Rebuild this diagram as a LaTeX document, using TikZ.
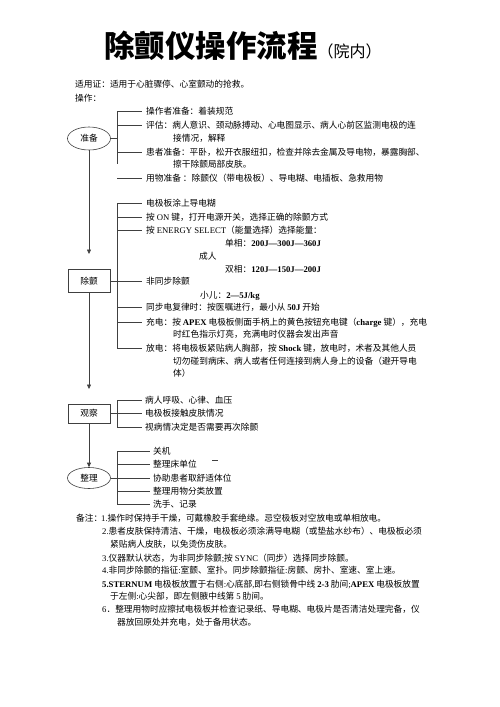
\documentclass[tikz,border=0pt]{standalone}
\usepackage{fontspec}
\newfontfamily\cjk{Noto Sans CJK SC}
\newfontfamily\latf{Liberation Serif}
\usetikzlibrary{arrows.meta,shapes.geometric}
\newcommand\lt[1]{{\latf #1}}
\newcommand\lb[1]{{\latf\bfseries #1}}
\begin{document}
\begin{tikzpicture}[x=1pt,y=-1pt,
  txt/.style={anchor=west,inner sep=0pt,text height=6.6pt,text depth=0pt,font=\cjk\fontsize{8.7}{10}\selectfont},
  ln/.style={draw=black!75,line width=0.6pt},
  arr/.style={ln,-{Triangle[width=4pt,length=4.5pt]}},
  stepbox/.style={draw=black!75,line width=0.6pt,minimum width=42pt,inner sep=0pt,font=\cjk\fontsize{8.7}{10}\selectfont},
  oval/.style={ellipse,draw=black!75,line width=0.6pt,minimum width=43pt,inner sep=0pt,font=\cjk\fontsize{8.7}{10}\selectfont}]
\useasboundingbox[fill=white] (0,0) rectangle (500,707);

% title
\node[anchor=base west,inner sep=0pt] (title) at (104,57) {\cjk\bfseries\fontsize{30.5}{32}\selectfont 除颤仪操作流程{\mdseries\fontsize{16}{18}\selectfont（院内）}};

\node[txt] (h1) at (75,84) {适用证：适用于心脏骤停、心室颤动的抢救。};
\node[txt] (h2) at (75,98) {操作：};

% bracket x positions
\coordinate (bx) at (117,0);

% ---- 准备
\node[oval,minimum height=23pt] (E1) at (89,138.5) {准备};
\node[txt] (p1) at (146,111) {操作者准备：着装规范};
\node[txt] (p2) at (146,125) {评估：病人意识、颈动脉搏动、心电图显示、病人心前区监测电极的连};
\node[txt] (p3) at (173,138) {接情况，解释};
\node[txt] (p4) at (146,152) {患者准备：平卧，松开衣服纽扣，检查并除去金属及导电物，暴露胸部、};
\node[txt] (p5) at (173,164) {擦干除颤局部皮肤。};
\node[txt] (p6) at (146,178) {用物准备 ：除颤仪（带电极板）、导电糊、电插板、急救用物};
\draw[ln] (bx |- p1.west) -- (bx |- p5.west);
\draw[ln] (E1.east) -- (bx |- E1.east);
\foreach \n in {p1,p2,p4,p6} \draw[ln] (bx |- \n.west) -- ([xshift=-4pt]\n.west);

\coordinate (a1) at (89,254);
\draw[arr] (E1.south) -- (a1);

% ---- 除颤
\node[stepbox,minimum height=23pt] (B1) at (89,281) {除颤};
\node[txt] (d1) at (146,203) {电极板涂上导电糊};
\node[txt] (d2) at (146,217) {按 \lt{ON} 键，打开电源开关，选择正确的除颤方式};
\node[txt] (d3) at (146,230) {按 \lt{ENERGY SELECT}（能量选择）选择能量：};
\node[txt] (d4) at (225,243) {单相：\lb{200J—300J—360J}};
\node[txt] (d5) at (199,256) {成人};
\node[txt] (d6) at (225,269) {双相：\lb{120J—150J—200J}};
\node[txt] (d7) at (146,281) {非同步除颤};
\node[txt] (d8) at (200,295) {小儿：\lb{2—5J/kg}};
\node[txt] (d9) at (146,307) {同步电复律时：按医嘱进行，最小从 \lb{50J} 开始};
\node[txt] (d10) at (146,322) {充电：按 \lb{APEX} 电极板侧面手柄上的黄色按钮充电键（\lb{charge} 键），充电};
\node[txt] (d11) at (173,334) {时红色指示灯亮，充满电时仪器会发出声音};
\node[txt] (d12) at (146,348) {放电：将电极板紧贴病人胸部，按 \lb{Shock} 键，放电时，术者及其他人员};
\node[txt] (d13) at (173,361) {切勿碰到病床、病人或者任何连接到病人身上的设备（避开导电};
\node[txt] (d14) at (173,373) {体）};
\draw[ln] (bx |- d1.west) -- (bx |- d12.west);
\draw[ln] (B1.east) -- ([xshift=-4pt]d7.west);
\foreach \n in {d1,d2,d3,d9,d10,d12} \draw[ln] (bx |- \n.west) -- ([xshift=-4pt]\n.west);

\coordinate (a2) at (89,389);
\draw[arr] (B1.south) -- (a2);

% ---- 观察
\node[stepbox,minimum height=19pt] (B2) at (89,413.5) {观察};
\node[txt] (o1) at (145,400) {病人呼吸、心律、血压};
\node[txt] (o2) at (145,413.5) {电极板接触皮肤情况};
\node[txt] (o3) at (145,427) {视病情决定是否需要再次除颤};
\draw[ln] (bx |- o1.west) -- (bx |- o3.west);
\draw[ln] (B2.east) -- ([xshift=-3pt]o2.west);
\foreach \n in {o1,o3} \draw[ln] (bx |- \n.west) -- ([xshift=-3pt]\n.west);

% ---- 整理
\node[oval,minimum height=21pt] (E2) at (89,478) {整理};
\draw[arr] (B2.south) -- (E2.north);
\node[txt] (z1) at (153,451) {关机};
\node[txt] (z2) at (153,464) {整理床单位};
\node[txt] (z3) at (153,478) {协助患者取舒适体位};
\node[txt] (z4) at (153,491) {整理用物分类放置};
\node[txt] (z5) at (153,504) {洗手、记录};
\draw[ln] (bx |- z1.west) -- (bx |- z5.west);
\draw[ln] (E2.east) -- ([xshift=-3pt]z3.west);
\foreach \n in {z1,z2,z4,z5} \draw[ln] (bx |- \n.west) -- ([xshift=-3pt]\n.west);
\draw[ln] (212,460) -- (218,460);

% ---- 备注
\node[txt] (n0) at (76,518) {备注：};
\node[txt] (n1) at (101,518) {\lt{1.}操作时保持手干燥，可戴橡胶手套绝缘。忌空极板对空放电或单相放电。};
\node[txt] (n2) at (102,531) {\lt{2.}患者皮肤保持清洁、干燥，电极板必须涂满导电糊（或垫盐水纱布）、电极板必须};
\node[txt] (n3) at (110,544) {紧贴病人皮肤，以免烫伤皮肤。};
\node[txt] (n4) at (102,558) {\lt{3.}仪器默认状态，为非同步除颤\lt{;}按 \lt{SYNC}（同步）选择同步除颤。};
\node[txt] (n5) at (102,570) {\lt{4.}非同步除颤的指征\lt{:}室颤、室扑。同步除颤指征\lt{:}房颤、房扑、室速、室上速。};
\node[txt] (n6) at (102,584) {\lb{5.STERNUM} 电极板放置于右侧\lt{:}心底部\lt{,}即右侧锁骨中线 \lb{2-3} 肋间\lt{;}\lb{APEX} 电极板放置};
\node[txt] (n7) at (110,596) {于左侧\lt{:}心尖部，即左侧腋中线第 \lt{5} 肋间。};
\node[txt] (n8) at (102,609) {\lt{6}．整理用物时应擦拭电极板并检查记录纸、导电糊、电极片是否清洁处理完备，仪};
\node[txt] (n9) at (117,622) {器放回原处并充电，处于备用状态。};
\end{tikzpicture}
\end{document}
